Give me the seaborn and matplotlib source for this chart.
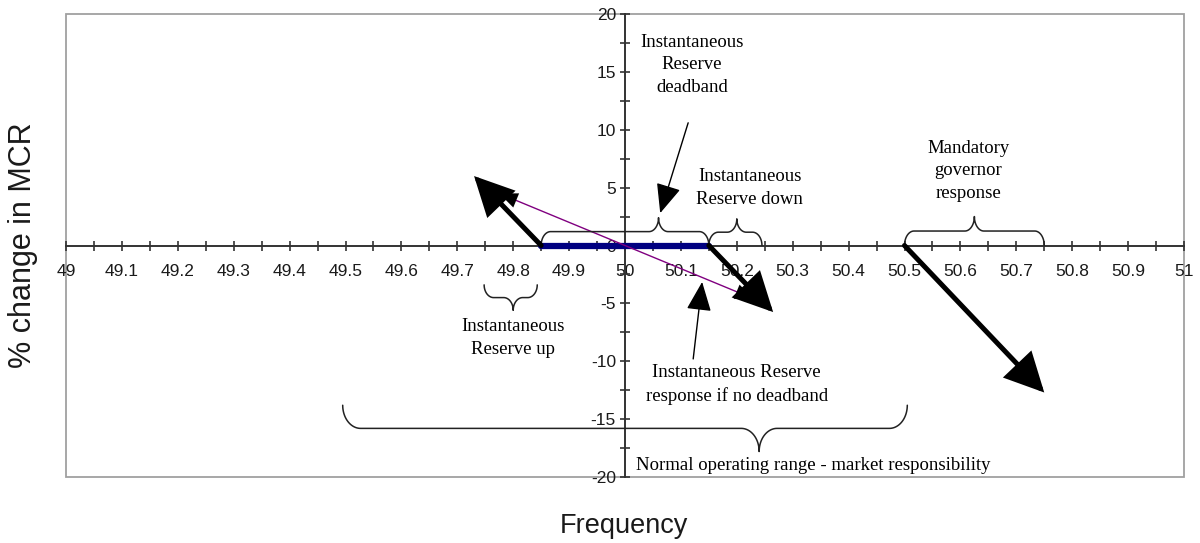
import numpy as np
import pandas as pd
import matplotlib
matplotlib.use("Agg")
import matplotlib.pyplot as plt
from matplotlib.patches import Rectangle
from matplotlib.ticker import MultipleLocator
import seaborn as sns

# ---------------- data ----------------
deadband_x = [49.85, 50.15]
deadband_y = [0.0, 0.0]

no_deadband_x = [49.775, 50.23]
no_deadband_y = [4.5, -4.6]

# thick response arrows: start -> end
resp_start_x = [49.85, 50.15, 50.50]
resp_start_y = [0.0, 0.0, 0.0]
resp_end_x = [49.73, 50.265, 50.75]
resp_end_y = [6.0, -5.75, -12.7]

# braces: x0, x1, tip x, base y, half-height
brace_x0 = [49.85, 50.15, 50.50, 49.748, 49.495]
brace_x1 = [50.15, 50.245, 50.75, 49.843, 50.505]
brace_xt = [50.06, 50.20, 50.625, 49.80, 50.24]
brace_y0 = [0.0, 0.0, 0.0, -3.4, -13.8]
brace_h = [1.2, 1.15, 1.25, -1.1, -2.0]

labels = [
    "Instantaneous\nReserve\ndeadband",
    "Instantaneous\nReserve down",
    "Mandatory\ngovernor\nresponse",
    "Instantaneous\nReserve up",
    "Instantaneous Reserve\nresponse if no deadband",
    "Normal operating range - market responsibility",
]
label_x = [50.12, 50.223, 50.614, 49.80, 50.20, 50.336]
label_y = [15.6, 4.97, 6.44, -7.99, -12.0, -18.97]

# pointer arrows (thin): start -> end
ptr_start_x = [50.113, 50.122]
ptr_start_y = [10.6, -9.8]
ptr_end_x = [50.063, 50.138]
ptr_end_y = [2.8, -3.15]

x_ticks = np.round(np.arange(49.0, 51.001, 0.1), 1)
y_ticks = np.arange(-20, 21, 5)

# ---------------- figure ----------------
sns.set_theme(style="white")
plt.rcParams["font.family"] = ["Liberation Sans", "DejaVu Sans"]
plt.rcParams["axes.unicode_minus"] = False

fig = plt.figure(figsize=(12, 5.43), dpi=100)
ax = fig.add_axes([66 / 1200, 1 - 477 / 543, (1184 - 66) / 1200, 463 / 543])

ax.set_xlim(49, 51)
ax.set_ylim(-20, 20)

# spines through origin (50, 0)
ax.spines["left"].set_position(("data", 50))
ax.spines["bottom"].set_position(("data", 0))
ax.spines["right"].set_visible(False)
ax.spines["top"].set_visible(False)
for s in ("left", "bottom"):
    ax.spines[s].set_color("#333333")
    ax.spines[s].set_linewidth(1.4)
    ax.spines[s].set_zorder(1)

# grey frame
ax.add_patch(Rectangle((0, 0), 1, 1, transform=ax.transAxes, fill=False,
                       edgecolor="#a0a0a0", lw=1.3, clip_on=False, zorder=0))

ax.xaxis.set_minor_locator(MultipleLocator(0.05))
ax.yaxis.set_minor_locator(MultipleLocator(2.5))
ax.set_xticks(x_ticks)
ax.set_xticklabels([f"{v:g}" for v in x_ticks])
ax.set_yticks(y_ticks)
ax.set_yticklabels([f"{v:d}" for v in y_ticks])
ax.tick_params(axis="both", which="both", direction="inout", length=7,
               width=1.2, color="#333333", labelsize=12.5, labelcolor="#1a1a1a")
ax.tick_params(axis="x", which="major", pad=10)
ax.tick_params(axis="y", which="major", pad=3)
ax.tick_params(left=True, bottom=True, which="both")

# deadband line
sns.lineplot(x=deadband_x, y=deadband_y, color="#000080", lw=4.5, ax=ax, zorder=3)
# response if no deadband (thin purple)
sns.lineplot(x=no_deadband_x, y=no_deadband_y, color="#800080", lw=1.0, ax=ax,
             zorder=3, sort=False)
for i in (0, -1):
    j = 1 if i == 0 else 0
    ax.annotate("", xy=(no_deadband_x[i], no_deadband_y[i]),
                xytext=(no_deadband_x[i] + (no_deadband_x[j] - no_deadband_x[i]) * 0.12,
                        no_deadband_y[i] + (no_deadband_y[j] - no_deadband_y[i]) * 0.12),
                arrowprops=dict(arrowstyle="-|>,head_length=1.2,head_width=0.5",
                                mutation_scale=11, color="black", lw=0.01,
                                shrinkA=0, shrinkB=0), zorder=4)

# thick black arrows
for x0, y0, x1, y1 in zip(resp_start_x, resp_start_y, resp_end_x, resp_end_y):
    ax.annotate("", xy=(x1, y1), xytext=(x0, y0),
                arrowprops=dict(arrowstyle="-|>,head_length=1.5,head_width=0.75",
                                mutation_scale=15, color="black", lw=3.6,
                                shrinkA=0, shrinkB=0, joinstyle="miter"), zorder=5)

# braces
def brace_path(x0, x1, xt, y0, ry, rx):
    t = np.linspace(0, np.pi / 2, 25)
    s1x = x0 + rx - rx * np.cos(t); s1y = y0 + ry * np.sin(t)
    s2x = xt - rx + rx * np.sin(t); s2y = y0 + 2 * ry - ry * np.cos(t)
    s3x = xt + rx - rx * np.cos(t); s3y = y0 + 2 * ry - ry * np.sin(t)
    s4x = x1 - rx + rx * np.sin(t); s4y = y0 + ry * np.cos(t)
    return (np.concatenate([s1x, s2x, s3x, s4x]),
            np.concatenate([s1y, s2y, s3y, s4y]))

for x0, x1, xt, y0, h in zip(brace_x0, brace_x1, brace_xt, brace_y0, brace_h):
    rx = 0.032 if (x1 - x0) > 0.5 else 0.017
    bx, by = brace_path(x0, x1, xt, y0, h, rx)
    ax.plot(bx, by, color="#222222", lw=1.1, zorder=4)

# pointer arrows
for x0, y0, x1, y1 in zip(ptr_start_x, ptr_start_y, ptr_end_x, ptr_end_y):
    ax.annotate("", xy=(x1, y1), xytext=(x0, y0),
                arrowprops=dict(arrowstyle="-|>,head_length=1.4,head_width=0.6",
                                mutation_scale=13, color="black", lw=1.0,
                                shrinkA=0, shrinkB=0), zorder=5)

# text labels
for txt, tx, ty in zip(labels, label_x, label_y):
    ax.text(tx, ty, txt, ha="center", va="center", fontsize=13.5,
            family=["Liberation Serif", "DejaVu Serif"], linespacing=1.45,
            color="black", zorder=6)

ax.set_xlabel("Frequency", fontsize=19.5, color="#1a1a1a")
ax.set_ylabel("% change in MCR", fontsize=22, color="#1a1a1a")
ax.xaxis.set_label_coords(0.499, -0.078)
ax.yaxis.set_label_coords(-0.025, 0.5)

fig.savefig("out.png", dpi=100)
